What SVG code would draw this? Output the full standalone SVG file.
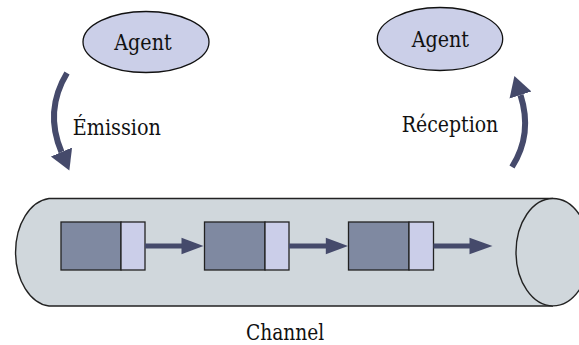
<svg xmlns="http://www.w3.org/2000/svg" width="579" height="345" viewBox="0 0 579 345">
  <defs>
    <style>
      text { font-family: "DejaVu Serif", serif; font-size: 21.5px; fill: #111; }
      .agent { fill: #cbcfe8; stroke: #111; stroke-width: 1.3; }
      .flow { fill: none; stroke: #454a6b; stroke-width: 6; }
      .tube { fill: #d0d7dc; stroke: #222; stroke-width: 1.4; }
      .msg-body { fill: #7f89a1; stroke: #222; stroke-width: 1.3; }
      .msg-tail { fill: #cbcee9; stroke: #222; stroke-width: 1.3; }
      .link { fill: none; stroke: #454a6b; stroke-width: 5; }
      .head { fill: #454a6b; }
    </style>
    <marker id="bigHead" markerUnits="userSpaceOnUse" markerWidth="24" markerHeight="26" viewBox="0 -13 24 26" refX="0" refY="0" orient="auto">
      <path d="M0,-11.5 L20,0 L0,11.5 z" fill="#454a6b"/>
    </marker>
  </defs>

  <rect width="579" height="345" fill="#fff"/>

  <!-- channel tube -->
  <g id="channel">
    <path class="tube" d="M553,198.5 L49,198.5 A37,54 0 0 0 49,306 L553,306"/>
    <ellipse class="tube" cx="553" cy="252.2" rx="37" ry="53.7"/>
    <text x="246" y="340" textLength="78.3" lengthAdjust="spacingAndGlyphs">Channel</text>
  </g>

  <!-- agents -->
  <g id="agent-sender">
    <ellipse class="agent" cx="146" cy="42" rx="63" ry="30.5"/>
    <text x="114.3" y="49.5" textLength="57.4" lengthAdjust="spacingAndGlyphs">Agent</text>
  </g>
  <g id="agent-receiver">
    <ellipse class="agent" cx="440" cy="39" rx="62.7" ry="31.5"/>
    <text x="411.7" y="46.5" textLength="57.3" lengthAdjust="spacingAndGlyphs">Agent</text>
  </g>

  <!-- messages -->
  <g id="msg1">
    <rect class="msg-body" x="61" y="222" width="60" height="48"/>
    <rect class="msg-tail" x="121" y="222" width="24" height="48"/>
  </g>
  <g id="msg2">
    <rect class="msg-body" x="204.5" y="222" width="60.5" height="48"/>
    <rect class="msg-tail" x="265" y="222" width="24" height="48"/>
  </g>
  <g id="msg3">
    <rect class="msg-body" x="348.5" y="222" width="60.5" height="48"/>
    <rect class="msg-tail" x="409" y="222" width="24.5" height="48"/>
  </g>

  <!-- connectors -->
  <g id="connectors">
    <path class="flow" d="M67,73 Q44,111 61.5,152" marker-end="url(#bigHead)"/>
    <text x="72.7" y="135" textLength="88.3" lengthAdjust="spacingAndGlyphs">Émission</text>
    <path class="flow" d="M512,167 Q533,134 520.5,95" marker-end="url(#bigHead)"/>
    <text x="401.7" y="131.7" textLength="96.6" lengthAdjust="spacingAndGlyphs">Réception</text>

    <line class="link" x1="145" y1="246" x2="182" y2="246"/>
    <path class="head" d="M181.5,237.7 L203.5,246 L181.5,254.3 z"/>
    <line class="link" x1="289" y1="246" x2="326" y2="246"/>
    <path class="head" d="M325.8,237.7 L348,246 L325.8,254.3 z"/>
    <line class="link" x1="433.5" y1="246" x2="470" y2="246"/>
    <path class="head" d="M469.5,237.7 L492.5,246 L469.5,254.3 z"/>
  </g>
</svg>
